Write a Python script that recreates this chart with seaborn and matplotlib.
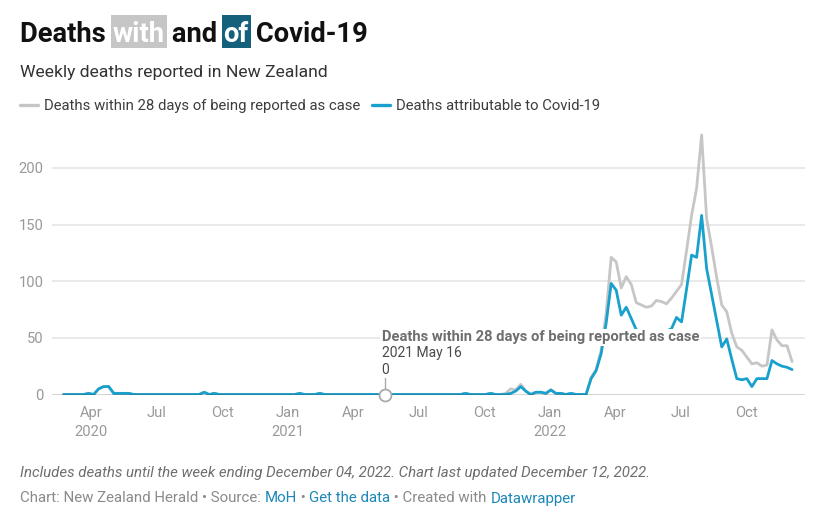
import numpy as np
import pandas as pd
import matplotlib
matplotlib.use("Agg")
import matplotlib.pyplot as plt
import seaborn as sns
from matplotlib.lines import Line2D
from matplotlib.patches import Rectangle

# ---------------- data ----------------
first_week = "2020-02-23"   # weeks ending on Sundays
within_28_days = [
    0, 0, 0, 0, 0, 1, 0, 5, 7, 7,
    1, 1, 1, 1, 0, 0, 0, 0, 0, 0,
    0, 0, 0, 0, 0, 0, 0, 0, 2, 0,
    1, 0, 0, 0, 0, 0, 0, 0, 0, 0,
    0, 0, 0, 0, 0, 0, 0, 1, 0, 0,
    0, 1, 0, 0, 0, 0, 0, 0, 0, 0,
    0, 0, 0, 0, 0, 0, 0, 0, 0, 0,
    0, 0, 0, 0, 0, 0, 0, 0, 0, 0,
    1, 0, 0, 0, 0, 1, 0, 0, 1, 5,
    4, 9, 3, 0, 2, 2, 1, 4, 1, 1,
    0, 1, 0, 0, 0, 15, 22, 39, 72, 121,
    117, 94, 104, 97, 81, 79, 77, 78, 83, 82,
    80, 85, 91, 97, 127, 158, 182, 229, 155, 130,
    103, 79, 73, 54, 42, 39, 33, 27, 28, 25,
    26, 57, 48, 43, 43, 29,
]
attributable = [
    0, 0, 0, 0, 0, 1, 0, 5, 7, 7,
    1, 1, 1, 1, 0, 0, 0, 0, 0, 0,
    0, 0, 0, 0, 0, 0, 0, 0, 2, 0,
    1, 0, 0, 0, 0, 0, 0, 0, 0, 0,
    0, 0, 0, 0, 0, 0, 0, 1, 0, 0,
    0, 1, 0, 0, 0, 0, 0, 0, 0, 0,
    0, 0, 0, 0, 0, 0, 0, 0, 0, 0,
    0, 0, 0, 0, 0, 0, 0, 0, 0, 0,
    1, 0, 0, 0, 0, 1, 0, 0, 0, 1,
    3, 7, 3, 0, 2, 2, 1, 4, 1, 1,
    0, 1, 0, 0, 0, 14, 21, 36, 63, 98,
    92, 70, 77, 67, 57, 53, 50, 52, 55, 54,
    56, 58, 68, 64, 93, 123, 121, 158, 111, 88,
    65, 42, 49, 31, 14, 13, 14, 7, 14, 14,
    14, 30, 27, 25, 24, 22,
]
series_names = ["Deaths within 28 days of being reported as case",
                "Deaths attributable to Covid-19"]
series_colors = ["#c6c6c6", "#18a1cd"]
y_ticks = [0, 50, 100, 150, 200]
x_tick_labels = ["Apr\n2020", "Jul", "Oct", "Jan\n2021", "Apr", "Jul", "Oct",
                 "Jan\n2022", "Apr", "Jul", "Oct"]
hover_date = "2021-05-16"

title_parts = ["Deaths ", "with", " and ", "of", " Covid-19"]
subtitle = "Weekly deaths reported in New Zealand"
note = ("Includes deaths until the week ending December 04, 2022. "
        "Chart last updated December 12, 2022.")
byline_parts = ["Chart: New Zealand Herald \u2022 Source: ", "MoH", " \u2022 ",
                "Get the data", " \u2022 Created with ", "Datawrapper"]

# ---------------- frame ----------------
dates = pd.date_range(first_week, periods=len(within_28_days), freq="7D")
df = pd.DataFrame({
    "date": list(dates) + list(dates),
    "deaths": within_28_days + attributable,
    "series": [series_names[0]] * len(dates) + [series_names[1]] * len(dates),
})

sns.set_theme(style="white")
plt.rcParams["font.family"] = ["Roboto", "DejaVu Sans"]

W, H = 817, 513
fig = plt.figure(figsize=(W / 100, H / 100), dpi=100)
fig.patch.set_facecolor("white")
ax_left, ax_right, ax_bottom, ax_top = 52, 805, 394.5, 122.5
ax = fig.add_axes([ax_left / W, (H - ax_bottom) / H,
                   (ax_right - ax_left) / W, (ax_bottom - ax_top) / H])

sns.lineplot(data=df, x="date", y="deaths", hue="series",
             hue_order=series_names, palette=series_colors,
             linewidth=2.0, ax=ax, legend=False, zorder=3)
for ln in ax.lines:
    ln.set_solid_joinstyle("round")
    ln.set_solid_capstyle("round")

ax.set_xlim(dates[0] - pd.Timedelta(days=16), dates[-1] + pd.Timedelta(days=18))
ax.set_ylim(0, 240)
ax.set_xlabel("")
ax.set_ylabel("")
for s in ax.spines.values():
    s.set_visible(False)

ax.set_yticks(y_ticks)
ax.set_yticklabels([str(v) for v in y_ticks])
for v in y_ticks[1:]:
    ax.axhline(v, color="#e3e3e3", lw=1.1, zorder=1)
ax.axhline(0, color="#222222", lw=1.0, zorder=4)

xticks = pd.date_range("2020-04-01", periods=len(x_tick_labels), freq="QS")
ax.set_xticks(xticks)
ax.set_xticklabels(x_tick_labels, linespacing=1.45)
ax.tick_params(axis="both", length=0, labelsize=10.6, labelcolor="#999999")
ax.tick_params(axis="x", pad=8)
ax.tick_params(axis="y", pad=6)

# ---------------- hover annotation ----------------
hd = pd.Timestamp(hover_date)
hv = within_28_days[list(dates).index(hd)]
ax.plot([hd], [hv], marker="o", ms=8.6, mfc="white", mec="#aaaaaa",
        mew=1.3, zorder=7, clip_on=False)
p = ax.transData.transform((matplotlib.dates.date2num(hd), hv))
fig.add_artist(Line2D([p[0], p[0]], [p[1] + 6.5, p[1] + 16.5], transform=None,
                      color="#aaaaaa", lw=1.0, zorder=7))

ax.annotate(str(hv), xy=(hd, hv), xytext=(-3.5, 20.5), textcoords="offset pixels",
            ha="left", va="baseline", fontsize=10.0, color="#4a4a4a", zorder=8)
ax.annotate(hd.strftime("%Y %b ") + str(hd.day), xy=(hd, hv), xytext=(-3.5, 37),
            textcoords="offset pixels", ha="left", va="baseline",
            fontsize=10.0, color="#4a4a4a", zorder=8)
ax.annotate(series_names[0], xy=(hd, hv), xytext=(-3.5, 53),
            textcoords="offset pixels", ha="left", va="baseline",
            fontsize=10.6, fontweight="bold", color="#6e6e6e", zorder=8,
            bbox=dict(boxstyle="square,pad=0.1", fc="white", ec="none"))

# ---------------- legend ----------------
handles = [Line2D([], [], color=c, lw=2.4) for c in series_colors]
leg = fig.legend(handles, series_names, loc="center left",
                 bbox_to_anchor=(20 / W, 1 - 106 / H), ncol=2, frameon=False,
                 fontsize=10.75, handlelength=1.2, handletextpad=0.42,
                 columnspacing=0.75, borderpad=0, borderaxespad=0)
for t in leg.get_texts():
    t.set_color("#3d3d3d")

# ---------------- titles / footer ----------------
fig.canvas.draw()
r = fig.canvas.get_renderer()


def text_width(s, **kw):
    t = fig.text(0, 0, s, **kw)
    w = t.get_window_extent(r).width
    t.remove()
    return w


def chain(parts, x0, y_base, props_list, common):
    xs = []
    ref_w = text_width("x", **common)
    prefix = ""
    for s in parts:
        xs.append(x0 + (text_width(prefix + "x", **common) - ref_w if prefix else 0))
        prefix += s
    arts = []
    for s, x, pr in zip(parts, xs, props_list):
        arts.append(fig.text(x / W, 1 - y_base / H, s,
                             ha="left", va="baseline", **{**common, **pr}))
    return arts


title_common = dict(fontsize=19.7, fontweight="bold")
title_props = [dict(color="#111111"), dict(color="white"), dict(color="#111111"),
               dict(color="white"), dict(color="#111111")]
tarts = chain(title_parts, 20, 41.7, title_props, title_common)
fig.canvas.draw()
for idx, fc in [(1, "#c6c6c6"), (3, "#15607a")]:
    bb = tarts[idx].get_window_extent(r)
    fig.add_artist(Rectangle((bb.x0 - 2, H - 41.7 - 6.3), bb.width + 4, 33,
                             transform=None, fc=fc, ec="none", zorder=0))

fig.text(20 / W, 1 - 77 / H, subtitle, ha="left", va="baseline",
         fontsize=12.6, color="#333333")

fig.text(20 / W, 1 - 477 / H, note, ha="left", va="baseline",
         fontsize=10.8, style="italic", color="#6e6e6e")

by_common = dict(fontsize=10.8)
link = "#1d87b9"
grey = "#8a8a8a"
chain(byline_parts, 20, 502.5,
      [dict(color=grey), dict(color=link), dict(color=grey),
       dict(color=link), dict(color=grey), dict(color=link)], by_common)

fig.savefig("out.png", dpi=100, facecolor="white")
